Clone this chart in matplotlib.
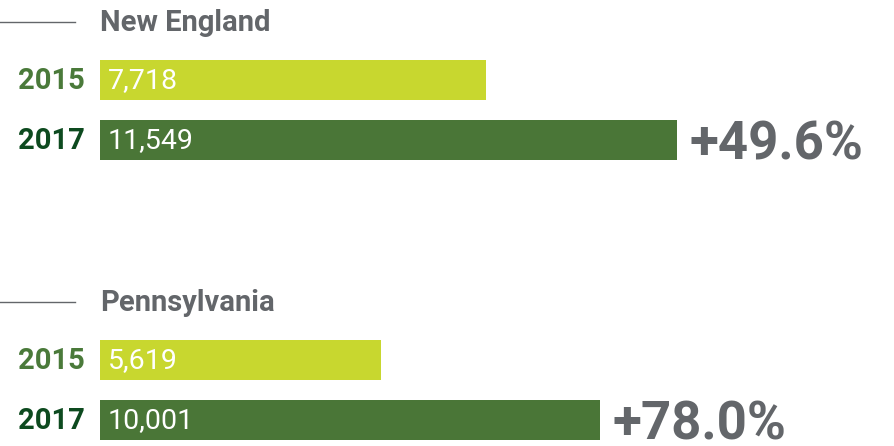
import matplotlib.pyplot as plt

plt.rcParams['font.family'] = ['Roboto', 'DejaVu Sans']

regions = ["New England", "Pennsylvania"]
years = ["2015", "2017"]
values_2015 = [7718, 5619]
values_2017 = [11549, 10001]

GRAY = "#63666a"
LIME = "#c8d72f"
GREEN = "#4a7637"
YEAR_COLORS = ["#4a7a3a", "#0d4a1f"]

fig = plt.figure(figsize=(8.94, 4.46), dpi=100)
ax = fig.add_axes([0, 0, 1, 1])
# 1 px = 20 units, bars start 100 px from the left
ax.set_xlim(-2000, 15880)
ax.set_ylim(446, 0)
ax.axis("off")

block_top = [0, 280]
for i, region in enumerate(regions):
    top = block_top[i]
    title_y = top + 22
    ax.plot([-2000, -500], [title_y, title_y], color=GRAY, lw=1)
    ax.text(0, title_y + 1, region, color=GRAY, fontsize=21, fontweight="bold",
            va="center", ha="left")

    vals = [values_2015[i], values_2017[i]]
    ys = [top + 80, top + 140]
    ax.barh(ys, vals, height=40, color=[LIME, GREEN], left=0)
    for y, v, yr, c in zip(ys, vals, years, YEAR_COLORS):
        ax.text(-300, y + 1, yr, color=c, fontsize=21, fontweight="bold",
                va="center", ha="right")
        ax.text(160, y + 1, f"{v:,}", color="white", fontsize=20.5,
                va="center", ha="left")

    pct = (vals[1] / vals[0] - 1) * 100
    ax.text(vals[1] + 240, ys[1] + 20, f"+{pct:.1f}%", color=GRAY,
            fontsize=38, fontweight="bold", va="baseline", ha="left")

fig.savefig("out.png", dpi=100)
